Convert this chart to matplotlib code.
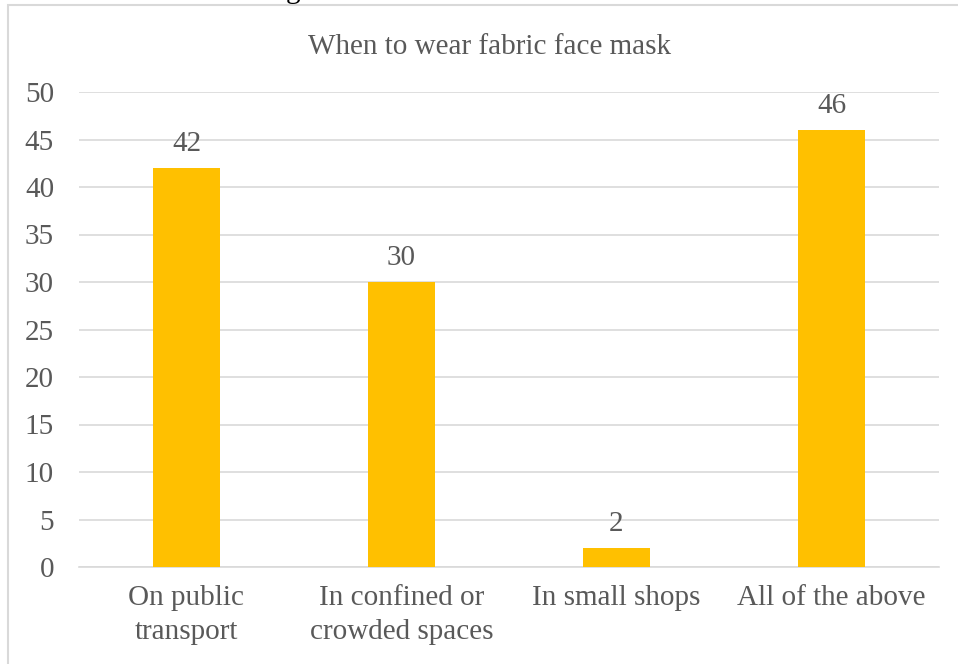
import matplotlib
matplotlib.use("Agg")
import matplotlib.pyplot as plt
from matplotlib.patches import Rectangle

categories = ["On public\ntransport", "In confined or\ncrowded spaces", "In small shops", "All of the above"]
values = [42, 30, 2, 46]
yticks = [0, 5, 10, 15, 20, 25, 30, 35, 40, 45, 50]
title = "When to wear fabric face mask"

W, H = 958, 664
fig = plt.figure(figsize=(W/100, H/100), dpi=100)
plt.rcParams['font.family'] = ['Liberation Serif', 'DejaVu Serif']
txt = '#595959'
bar_c = '#FFC000'
grid_c = '#d9d9d9'
fs = 21

# outer chart border
fig.patches.append(Rectangle((8/W, -0.2), 1.2, 1.2 - 5/H, transform=fig.transFigure,
                             fill=False, edgecolor=grid_c, linewidth=1.5, zorder=0))
# clipped caption text above the chart (only its descender shows)
fig.text(293/W, 1.0 + 2/H, "g", ha='center', va='baseline', fontsize=fs, color='black')

ax = fig.add_axes([79/W, 1 - 567/H, 860/W, 475/H])
x = range(len(categories))
ax.bar(x, values, width=0.31, color=bar_c, zorder=3)
ax.set_xlim(-0.5, len(categories) - 0.5)
ax.set_ylim(0, 50)
ax.set_yticks(yticks)
ax.set_yticklabels([str(v) for v in yticks], fontsize=fs, color=txt)
ax.set_xticks(list(x))
ax.set_xticklabels(categories, fontsize=fs, color=txt, linespacing=1.4)
ax.tick_params(axis='both', length=0)
ax.tick_params(axis='y', pad=18)
ax.tick_params(axis='x', pad=13)
ax.grid(axis='y', color=grid_c, linewidth=1.2, zorder=0)
for s in ['top', 'right', 'left']:
    ax.spines[s].set_visible(False)
ax.spines['bottom'].set_color(grid_c)
ax.spines['bottom'].set_linewidth(1.2)
for i, v in enumerate(values):
    ax.annotate(str(v), (i, v), xytext=(0, 8), textcoords='offset points',
                ha='center', va='bottom', fontsize=fs, color=txt)
fig.text(489/W, 1 - 47/H, title, ha='center', va='center', fontsize=fs, color=txt)

fig.savefig("out.png", dpi=100)
